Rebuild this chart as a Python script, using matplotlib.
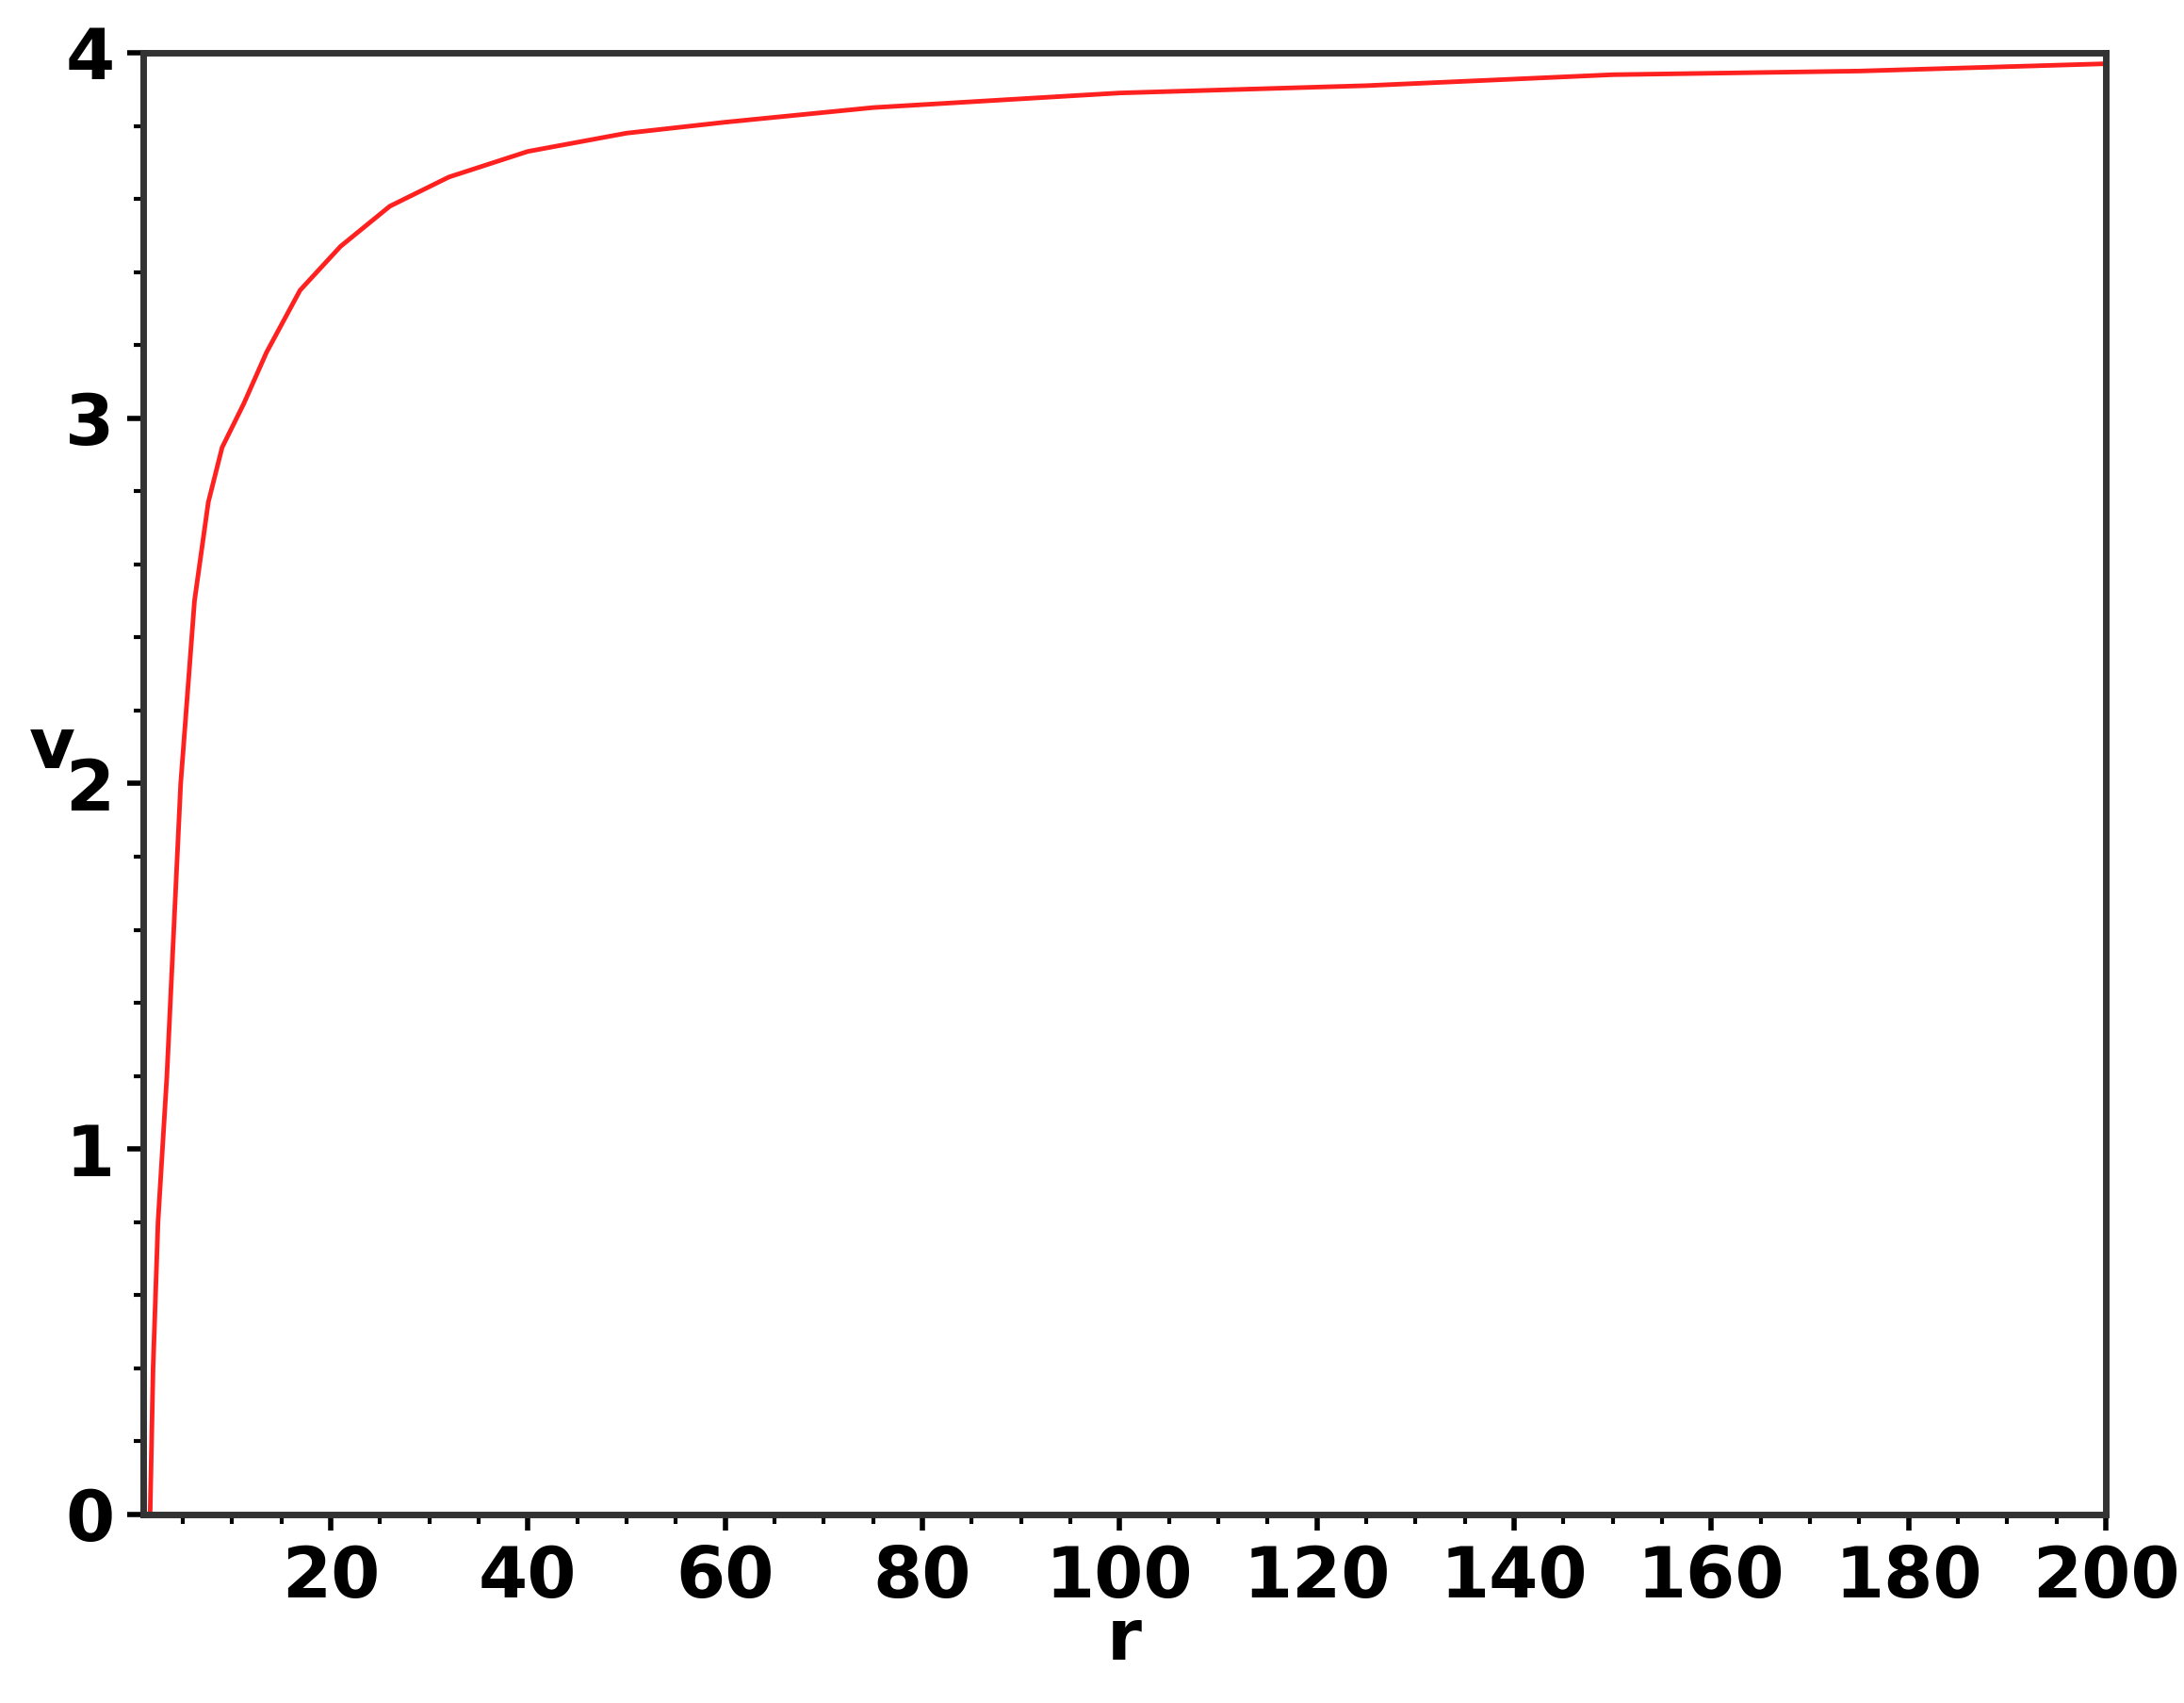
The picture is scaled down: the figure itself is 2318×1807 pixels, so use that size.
import matplotlib
matplotlib.use("Agg")
import matplotlib.pyplot as plt
from matplotlib.ticker import MultipleLocator

r = [1.7, 2.0, 2.5, 3.4, 4.8, 6.2, 7.6, 9.0, 11.2, 13.5, 16.9, 21, 26, 32, 40, 50, 60, 75, 100, 125, 150, 175, 200]
v = [0.0, 0.4, 0.8, 1.2, 2.0, 2.5, 2.77, 2.92, 3.04, 3.18, 3.35, 3.47, 3.58, 3.66, 3.73, 3.78, 3.81, 3.85, 3.89, 3.91, 3.94, 3.95, 3.97]

fig = plt.figure(figsize=(23.18, 18.07), dpi=100)
ax = fig.add_axes([152/2318, 1-1607/1807, (2235-152)/2318, (1607-56)/1807])
ax.plot(r, v, color="#ff2020", lw=3.5)
ax.set_xlim(1, 200)
ax.set_ylim(0, 4)
ax.set_xticks([20, 40, 60, 80, 100, 120, 140, 160, 180, 200])
ax.set_yticks([0, 1, 2, 3, 4])
ax.xaxis.set_minor_locator(MultipleLocator(5))
ax.yaxis.set_minor_locator(MultipleLocator(0.2))
for s in ax.spines.values():
    s.set_linewidth(5)
    s.set_color("#333333")
ax.tick_params(which="major", length=12, width=4, labelsize=54, pad=10)
ax.tick_params(which="minor", length=7, width=3)
for lab in ax.get_xticklabels() + ax.get_yticklabels():
    lab.set_fontweight("bold")
ax.set_xlabel("r", fontsize=54, fontweight="bold", labelpad=-5)
ax.set_ylabel("v", fontsize=54, fontweight="bold", rotation=0, labelpad=10)
fig.savefig("out.png", dpi=100)
